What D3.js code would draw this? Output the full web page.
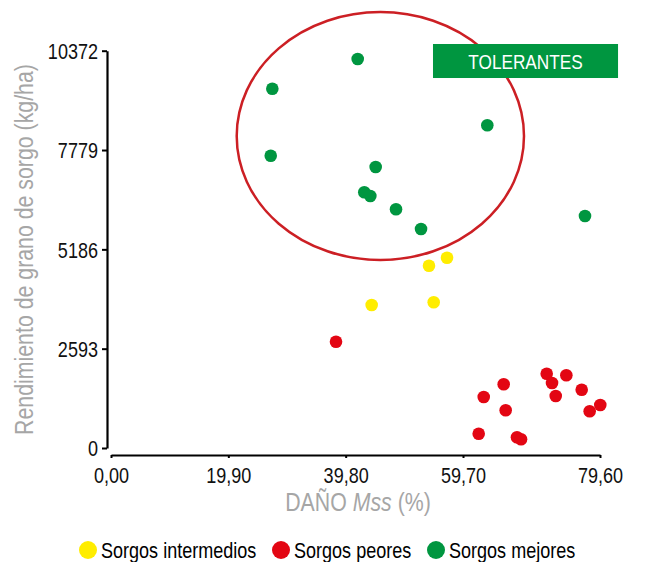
<!DOCTYPE html>
<html>
<head>
<meta charset="utf-8">
<script src="https://cdn.jsdelivr.net/npm/d3@7"></script>
<style>
  html, body { margin: 0; padding: 0; background: #fff; }
  svg text { font-family: "Liberation Sans", Arial, sans-serif; }
</style>
</head>
<body>
<svg id="chart" width="652" height="562"></svg>
<script>
// ---- Data ----
const xTicks = [0, 19.9, 39.8, 59.7, 79.6];
const xTickLabels = ["0,00", "19,90", "39,80", "59,70", "79,60"];
const yTicks = [0, 2593, 5186, 7779, 10372];
const yTickLabels = ["0", "2593", "5186", "7779", "10372"];

const mejoresX = [41.84, 27.36, 63.23, 27.09, 44.89, 42.96, 43.98, 48.34, 52.58, 77.42];
const mejoresY = [10155, 9380, 8424, 7631, 7336, 6675, 6579, 6232, 5717, 6057];

const intermediosX = [56.99, 53.93, 44.21, 54.73];
const intermediosY = [4968, 4759, 3733, 3804];

const peoresX = [38.16, 71.86, 74.71, 72.63, 65.61, 76.94, 62.71, 73.17, 79.64, 65.90, 78.10, 61.98, 67.54, 68.13];
const peoresY = [2775, 1940, 1898, 1697, 1663, 1522, 1331, 1358, 1123, 984, 958, 373, 279, 227];

const seriesNames = ["Sorgos intermedios", "Sorgos peores", "Sorgos mejores"];
const seriesColors = ["#ffed00", "#e30613", "#009640"];

// annotations (data coordinates)
const ellipseX = [21.32, 68.56];
const ellipseY = [4908, 11382];
const boxX = [54.61, 82.22];
const boxY = [9659, 10547];
const boxLabel = "TOLERANTES";

// ---- Chart ----
const NARROW = 0.82;
function narrowify(sel) {
  sel.each(function () {
    const t = d3.select(this);
    const tx = +t.attr("x") || 0, ty = +t.attr("y") || 0;
    t.attr("x", 0).attr("y", 0).attr("transform", `translate(${tx},${ty}) scale(${NARROW},1)`);
  });
}

const svg = d3.select("#chart");
const x = d3.scaleLinear().domain([0, 59.7, 79.6]).range([111, 463, 600]);
const y = d3.scaleLinear().domain([0, 10372]).range([448, 50.7]);

// Y axis
const yAxis = d3.axisLeft(y).tickValues(yTicks).tickFormat((d, i) => yTickLabels[i]).tickSize(5).tickSizeOuter(0).tickPadding(4);
const gy = svg.append("g").attr("transform", "translate(107,0)").call(yAxis);
gy.select(".domain").attr("stroke", "#000").attr("stroke-width", 2.2);
gy.selectAll(".tick line").attr("stroke", "#000").attr("stroke-width", 2);
gy.selectAll(".tick text").attr("fill", "#111").style("font-size", "22px").attr("dy", "0.36em").call(narrowify);

// X axis
const xAxis = d3.axisBottom(x).tickValues(xTicks).tickFormat((d, i) => xTickLabels[i]).tickSize(3).tickSizeOuter(0).tickPadding(9);
const gx = svg.append("g").attr("transform", "translate(0,455)").call(xAxis);
gx.select(".domain").attr("stroke", "#000").attr("stroke-width", 2.2);
gx.selectAll(".tick line").attr("stroke", "#000").attr("stroke-width", 2);
gx.selectAll(".tick text").attr("fill", "#111").style("font-size", "22px").attr("dy", "0.71em").call(narrowify);

// Axis titles
svg.append("text")
  .attr("transform", `translate(33,249.5) rotate(-90) scale(${NARROW},1)`)
  .attr("text-anchor", "middle")
  .attr("fill", "#a6a6a6")
  .style("font-size", "26px")
  .text("Rendimiento de grano de sorgo (kg/ha)");

const xt = svg.append("text")
  .attr("transform", `translate(358,511) scale(${NARROW},1)`)
  .attr("text-anchor", "middle")
  .attr("fill", "#a6a6a6")
  .style("font-size", "26px");
xt.append("tspan").text("DAÑO ");
xt.append("tspan").style("font-style", "italic").text("Mss");
xt.append("tspan").text(" (%)");

// Ellipse annotation
svg.append("ellipse")
  .attr("cx", (x(ellipseX[0]) + x(ellipseX[1])) / 2)
  .attr("cy", (y(ellipseY[0]) + y(ellipseY[1])) / 2)
  .attr("rx", (x(ellipseX[1]) - x(ellipseX[0])) / 2)
  .attr("ry", Math.abs(y(ellipseY[0]) - y(ellipseY[1])) / 2)
  .attr("fill", "none")
  .attr("stroke", "#cc1f24")
  .attr("stroke-width", 2.5);

// Box
svg.append("rect")
  .attr("x", x(boxX[0]))
  .attr("y", y(boxY[1]))
  .attr("width", x(boxX[1]) - x(boxX[0]))
  .attr("height", y(boxY[0]) - y(boxY[1]))
  .attr("fill", "#009640");
svg.append("text")
  .attr("transform", `translate(${(x(boxX[0]) + x(boxX[1])) / 2},${(y(boxY[0]) + y(boxY[1])) / 2}) scale(${NARROW},1)`)
  .attr("dy", "0.36em")
  .attr("text-anchor", "middle")
  .attr("fill", "#fff")
  .style("font-size", "21px")
  .text(boxLabel);

// Points
const series = [
  { xs: intermediosX, ys: intermediosY, color: seriesColors[0] },
  { xs: peoresX, ys: peoresY, color: seriesColors[1] },
  { xs: mejoresX, ys: mejoresY, color: seriesColors[2] }
];
series.forEach(s => {
  svg.append("g").selectAll("circle")
    .data(s.xs.map((v, i) => [v, s.ys[i]]))
    .join("circle")
    .attr("cx", d => x(d[0]))
    .attr("cy", d => y(d[1]))
    .attr("r", 6.3)
    .attr("fill", s.color);
});

// Legend
const legendX = [88, 281, 436];
const lg = svg.append("g");
seriesNames.forEach((name, i) => {
  lg.append("circle").attr("cx", legendX[i]).attr("cy", 550).attr("r", 9).attr("fill", seriesColors[i]);
  lg.append("text")
    .attr("transform", `translate(${legendX[i] + 13},550) scale(${NARROW},1)`)
    .attr("dy", "0.36em")
    .attr("fill", "#000").style("font-size", "22px").text(name);
});
</script>
</body>
</html>
